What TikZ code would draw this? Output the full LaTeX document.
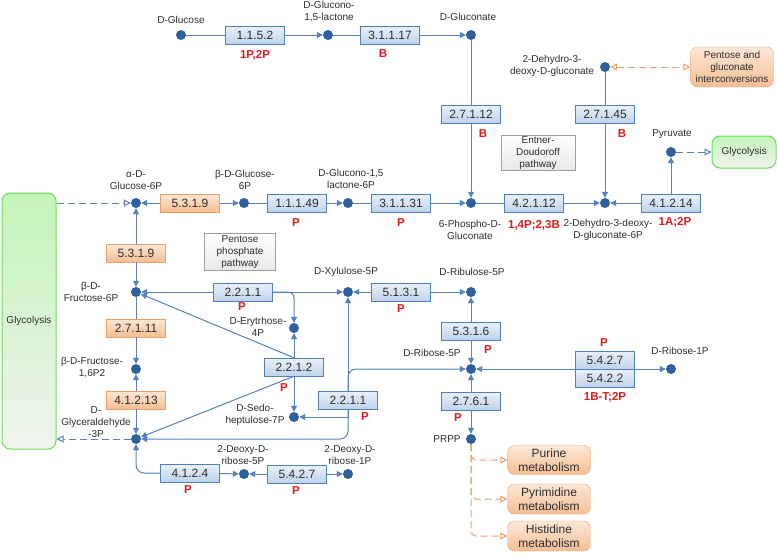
\documentclass[tikz,border=0pt]{standalone}
\usepackage{fontspec}
\setmainfont{Liberation Sans}
\usepackage{xcolor}
\usetikzlibrary{arrows.meta}

\definecolor{lineblue}{RGB}{84,130,190}
\definecolor{dotblue}{RGB}{45,96,156}
\definecolor{boxblue}{RGB}{79,129,189}
\definecolor{bluetop}{RGB}{234,241,250}
\definecolor{bluebot}{RGB}{190,211,236}
\definecolor{orangeline}{RGB}{238,160,105}
\definecolor{orangetop}{RGB}{253,232,214}
\definecolor{orangebot}{RGB}{245,190,148}
\definecolor{greenline}{RGB}{105,222,85}
\definecolor{greentop}{RGB}{196,244,186}
\definecolor{greenbot}{RGB}{240,244,238}
\definecolor{txt}{RGB}{45,45,45}
\definecolor{ecred}{RGB}{232,24,24}

\begin{document}
\begin{tikzpicture}[
        x=1pt,
        y=-1pt,
        dot/.style={
                circle,
                fill=dotblue,
                inner sep=0pt,
                minimum size=10pt
                },
        enzyme/.style={
                draw=boxblue,
                top color=bluetop,
                bottom color=bluebot,
                minimum width=59pt,
                minimum height=18pt,
                inner sep=0pt,
                text=txt,
                font=\fontsize{12}{14}\selectfont
                },
        isomerase/.style={
                enzyme,
                draw=orangeline,
                top color=orangetop,
                bottom color=orangebot
                },
        metab/.style={
                align=center,
                inner sep=0pt,
                text=txt,
                font=\fontsize{10}{12}\selectfont
                },
        organism/.style={
                inner sep=0pt,
                text=ecred,
                font=\bfseries\fontsize{11.5}{13}\selectfont
                },
        pathway/.style={
                draw=gray!75,
                top color=white,
                bottom color=gray!18,
                align=center,
                inner sep=0pt,
                text=txt,
                font=\fontsize{10}{12}\selectfont
                },
        linked/.style={
                rounded corners=7pt,
                draw=orangeline,
                top color=orangetop,
                bottom color=orangebot,
                align=center,
                inner sep=0pt,
                text=txt
                },
        glyco/.style={
                rounded corners=8pt,
                draw=greenline,
                line width=1pt,
                top color=greentop,
                bottom color=greenbot,
                inner sep=0pt,
                text=txt,
                font=\fontsize{10}{12}\selectfont
                },
        bond/.style={
                draw=lineblue,
                line width=1pt
                },
        flow/.style={
                bond,
                -{Triangle[length=6pt,width=6pt]}
                },
        dashflow/.style={
                bond,
                dash pattern=on 7pt off 4pt,
                -{Triangle[open,length=7pt,width=7pt]}
                },
        dashorange/.style={
                dashflow,
                draw=orangeline
                }
        ]
\useasboundingbox (0,0) rectangle (778,554);

%linked pathways
\node[glyco, minimum width=54pt, minimum height=256pt] (glyl) at (29,321) {Glycolysis};
\node[glyco, minimum width=64pt, minimum height=32pt] (glyr) at (744,152) {Glycolysis};
\node[linked, minimum width=83pt, minimum height=40pt,
        font=\fontsize{10}{12}\selectfont]
        (pgi) at (732,67) {Pentose and\\gluconate\\interconversions};
\node[linked, minimum width=83pt, minimum height=29pt,
        font=\fontsize{12}{14}\selectfont]
        (pur) at (549,460) {Purine\\metabolism};
\node[linked, minimum width=83pt, minimum height=30pt,
        font=\fontsize{12}{14}\selectfont]
        (pyrim) at (549,499) {Pyrimidine\\metabolism};
\node[linked, minimum width=83pt, minimum height=30pt,
        font=\fontsize{12}{14}\selectfont]
        (his) at (549,536) {Histidine\\metabolism};

%sub-pathway titles
\node[pathway, minimum width=74pt, minimum height=35pt] (edp) at (538,153) {Entner-\\Doudoroff\\pathway};
\node[pathway, minimum width=71pt, minimum height=37pt] (ppp) at (240,252) {Pentose\\phosphate\\pathway};

%compounds
\node[dot] (glc) at (181,35) {};
\node[dot] (gdl) at (328,35) {};
\node[dot] (glcn) at (471,35) {};
\node[dot] (kdg) at (605,67) {};
\node[dot] (pyr) at (671,152) {};
\node[dot] (ag6p) at (136,203) {};
\node[dot] (bg6p) at (244,203) {};
\node[dot] (gl6p) at (348,203) {};
\node[dot] (pgn) at (471,203) {};
\node[dot] (kdpg) at (605,203) {};
\node[dot] (f6p) at (136,292) {};
\node[dot] (xu5p) at (348,292) {};
\node[dot] (ru5p) at (471,292) {};
\node[dot] (e4p) at (294,328) {};
\node[dot] (fbp) at (136,369) {};
\node[dot] (r5p) at (471,369) {};
\node[dot] (r1p) at (671,369) {};
\node[dot] (s7p) at (294,417) {};
\node[dot] (gap) at (136,439) {};
\node[dot] (prpp) at (471,439) {};
\node[dot] (dr5p) at (244,474) {};
\node[dot] (dr1p) at (348,474) {};

%compound labels
\node[metab] (glcl) at (181,20) {D-Glucose};
\node[metab] (gdll) at (329,12) {D-Glucono-\\1,5-lactone};
\node[metab] (glcnl) at (468,17) {D-Gluconate};
\node[metab] (kdgl) at (552,66) {2-Dehydro-3-\\deoxy-D-gluconate};
\node[metab] (pyrl) at (672,134) {Pyruvate};
\node[metab] (ag6pl) at (136,180) {α-D-\\Glucose-6P};
\node[metab] (bg6pl) at (245,180) {β-D-Glucose-\\6P};
\node[metab] (gl6pl) at (351,179) {D-Glucono-1,5\\lactone-6P};
\node[metab] (pgnl) at (470,230) {6-Phospho-D-\\Gluconate};
\node[metab] (kdpgl) at (608,230) {2-Dehydro-3-deoxy-\\D-gluconate-6P};
\node[metab] (f6pl) at (91,292) {β-D-\\Fructose-6P};
\node[metab] (xu5pl) at (346,272) {D-Xylulose-5P};
\node[metab] (ru5pl) at (472,272) {D-Ribulose-5P};
\node[metab] (e4pl) at (258,327) {D-Erytrhose-\\4P};
\node[metab] (fbpl) at (92,368) {β-D-Fructose-\\1,6P2};
\node[metab] (r5pl) at (432,353) {D-Ribose-5P};
\node[metab] (r1pl) at (680,351) {D-Ribose-1P};
\node[metab] (s7pl) at (255,415) {D-Sedo-\\heptulose-7P};
\node[metab] (gapl) at (96,422) {D-\\Glyceraldehyde\\-3P};
\node[metab] (prppl) at (447,439) {PRPP};
\node[metab] (dr5pl) at (243,455) {2-Deoxy-D-\\ribose-5P};
\node[metab] (dr1pl) at (350,455) {2-Deoxy-D-\\ribose-1P};

%enzymes
\node[enzyme] (e11152) at (255,35) {1.1.5.2};
\node[enzyme] (e31117) at (390,35) {3.1.1.17};
\node[enzyme] (e27112) at (471,114) {2.7.1.12};
\node[enzyme] (e27145) at (605,114) {2.7.1.45};
\node[isomerase] (e5319a) at (190,203) {5.3.1.9};
\node[enzyme] (e11149) at (297,203) {1.1.1.49};
\node[enzyme] (e31131) at (401,203) {3.1.1.31};
\node[enzyme] (e42112) at (534,203) {4.2.1.12};
\node[enzyme] (e41214) at (671,203) {4.1.2.14};
\node[isomerase] (e5319b) at (136,253) {5.3.1.9};
\node[enzyme] (e2211a) at (243,292) {2.2.1.1};
\node[enzyme] (e5131) at (401,292) {5.1.3.1};
\node[isomerase] (e27111) at (136,328) {2.7.1.11};
\node[enzyme] (e5316) at (471,331) {5.3.1.6};
\node[enzyme] (e5427a) at (605,360) {5.4.2.7};
\node[enzyme] (e5422) at (605,378) {5.4.2.2};
\node[enzyme] (e2212) at (294,367) {2.2.1.2};
\node[isomerase] (e41213) at (136,400) {4.1.2.13};
\node[enzyme] (e2211b) at (348,400) {2.2.1.1};
\node[enzyme] (e2761) at (471,401) {2.7.6.1};
\node[enzyme] (e4124) at (190,473) {4.1.2.4};
\node[enzyme] (e5427b) at (297,474) {5.4.2.7};

%organisms
\node[organism] (o11152) at (255,55) {1P,2P};
\node[organism] (o31117) at (383,54) {B};
\node[organism] (o27112) at (483,134) {B};
\node[organism] (o27145) at (622,134) {B};
\node[organism] (o11149) at (296,223) {P};
\node[organism] (o31131) at (401,223) {P};
\node[organism] (o42112) at (534,225) {1,4P;2,3B};
\node[organism] (o41214) at (675,222) {1A;2P};
\node[organism] (o2211a) at (242,307) {P};
\node[organism] (o5131) at (401,309) {P};
\node[organism] (o5427a) at (604,343) {P};
\node[organism] (o5316) at (488,350) {P};
\node[organism] (o2212) at (284,388) {P};
\node[organism] (o5422) at (605,397) {1B-T;2P};
\node[organism] (o2211b) at (365,417) {P};
\node[organism] (o2761) at (458,418) {P};
\node[organism] (o4124) at (188,490) {P};
\node[organism] (o5427b) at (296,491) {P};

%Entner-Doudoroff branch
\draw[bond] (glc) -- (e11152);
\draw[flow] (e11152) -- (gdl);
\draw[bond] (gdl) -- (e31117);
\draw[flow] (e31117) -- (glcn);
\draw[bond] (glcn) -- (e27112);
\draw[flow] (e27112) -- (pgn);
\draw[bond] (kdg) -- (e27145);
\draw[flow] (e27145) -- (kdpg);
\draw[bond] (pgn) -- (e42112);
\draw[flow] (e42112) -- (kdpg);
\draw[flow] (e41214) -- (kdpg);
\draw[flow] (e41214) -- (pyr);

%oxidative branch
\draw[flow] (e5319a) -- (ag6p);
\draw[flow] (e5319a) -- (bg6p);
\draw[bond] (bg6p) -- (e11149);
\draw[flow] (e11149) -- (gl6p);
\draw[bond] (gl6p) -- (e31131);
\draw[flow] (e31131) -- (pgn);

%glycolysis column
\draw[flow] (e5319b) -- (ag6p);
\draw[flow] (e5319b) -- (f6p);
\draw[bond] (f6p) -- (e27111);
\draw[flow] (e27111) -- (fbp);
\draw[flow] (e41213) -- (fbp);
\draw[flow] (e41213) -- (gap);

%non-oxidative branch
\draw[flow] (e2211a) -- (f6p);
\draw[flow] (e2211a) -- (xu5p);
\draw[flow, rounded corners=6pt] (e2211a.east) -| (e4p);
\draw[flow] (e5131) -- (xu5p);
\draw[flow] (e5131) -- (ru5p);
\draw[flow] (e5316) -- (ru5p);
\draw[flow] (e5316) -- (r5p);
\draw[flow] (e2212.north) -- (e4p);
\draw[flow] (e2212.north) -- (f6p);
\draw[flow] (e2212.south) -- (s7p);
\draw[flow] (e2212.south) -- (gap);
\draw[flow] (e2211b.north) -- (xu5p);
\draw[flow, rounded corners=8pt] (e2211b.north) |- (r5p);
\draw[flow] (e2211b.south) |- (s7p);
\draw[flow, rounded corners=8pt] (e2211b.south) |- (gap);
\draw[bond, {Triangle[length=6pt,width=6pt]}-{Triangle[length=6pt,width=6pt]}] (r5p) -- (r1p);
\draw[flow] (e2761) -- (r5p);
\draw[flow] (e2761) -- (prpp);

%deoxyribose
\draw[flow, rounded corners=8pt] (e4124.west) -| (gap);
\draw[flow] (e4124) -- (dr5p);
\draw[flow] (e5427b) -- (dr5p);
\draw[flow] (e5427b) -- (dr1p);

%links to other maps
\draw[dashflow] (glyl.east |- ag6p) -- (ag6p);
\draw[dashflow] (gap) -- (glyl.east |- gap);
\draw[dashflow] (pyr) -- (glyr);
\draw[dashorange, {Triangle[open,length=7pt,width=7pt]}-{Triangle[open,length=7pt,width=7pt]}] (kdg) -- (pgi);
\draw[dashorange, rounded corners=5pt] (prpp) |- (pur);
\draw[dashorange, rounded corners=5pt] (prpp) |- (pyrim);
\draw[dashorange, rounded corners=5pt] (prpp) |- (his);
\end{tikzpicture}
\end{document}
